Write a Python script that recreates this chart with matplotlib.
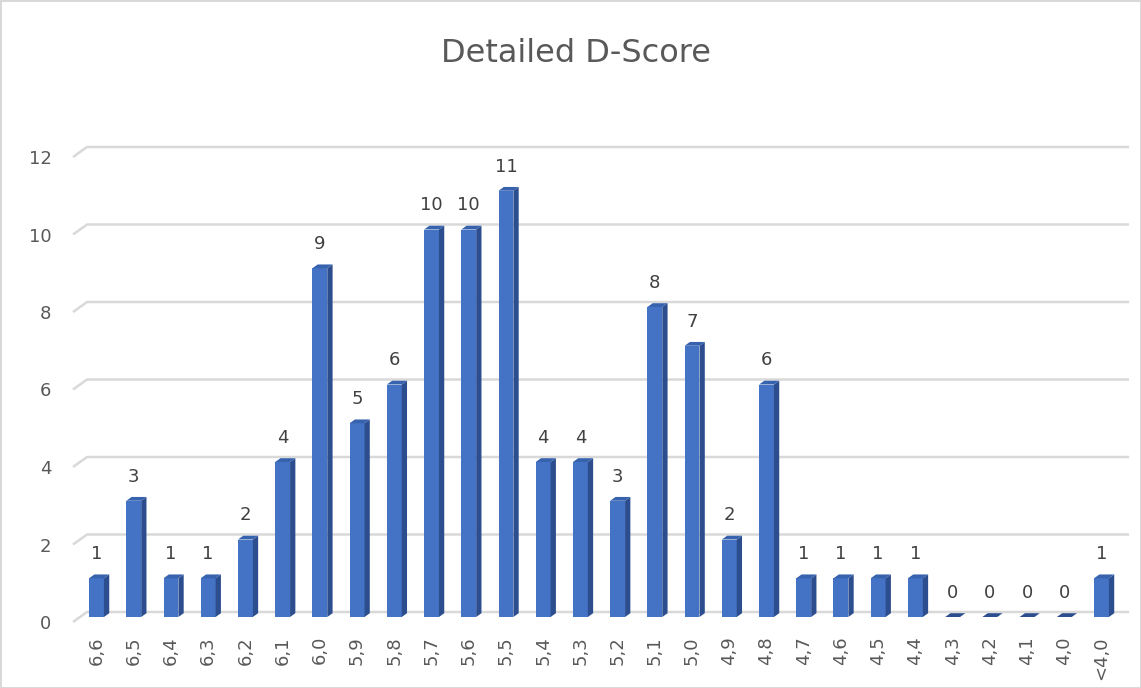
import matplotlib
matplotlib.use('Agg')
from matplotlib import pyplot as plt
from matplotlib.patches import Polygon
from matplotlib.transforms import ScaledTranslation

# categories (D-score buckets) and counts
categories = ['6,6', '6,5', '6,4', '6,3', '6,2', '6,1', '6,0', '5,9', '5,8', '5,7',
              '5,6', '5,5', '5,4', '5,3', '5,2', '5,1', '5,0', '4,9', '4,8', '4,7',
              '4,6', '4,5', '4,4', '4,3', '4,2', '4,1', '4,0', '<4,0']
counts = [1, 3, 1, 1, 2, 4, 9, 5, 6, 10, 10, 11, 4, 4, 3, 8, 7, 2, 6, 1,
          1, 1, 1, 0, 0, 0, 0, 1]
y_ticks = [0, 2, 4, 6, 8, 10, 12]

FRONT = '#4472C4'
SIDE = '#2C4E8E'
TOP = '#3762AE'
GRID = '#D9D9D9'
TXT = '#595959'

fig = plt.figure(figsize=(11.41, 6.88), dpi=100, edgecolor=GRID, linewidth=2)
# axes placed so one category = ~37 px, one unit = ~38.75 px
ax = fig.add_axes([77.9 / 1141, 71 / 688, 1042.2 / 1141, 503.75 / 688])
ax.set_xlim(-0.5, len(categories) - 0.5)
ax.set_ylim(0, 13)
for s in ax.spines.values():
    s.set_visible(False)

# fake 3d: depth of the walls and of the bars, in data units
wall_dx = 14 / 37.22
bar_w = 0.40
ddx, ddy = 5.3 / 37.22, 3.8 / 38.75

# gridlines on the back wall with the slanted floor part at the left
gx0 = -0.5 - 4.9 / 37.22
for v in y_ticks:
    back = v + 5 / 38.75
    ax.plot([gx0, gx0 + wall_dx, 27.74], [v - 5 / 38.75, back, back],
            color=GRID, lw=1.8, clip_on=False, zorder=1, solid_capstyle='butt')

xs = list(range(len(categories)))
ax.bar(xs, counts, width=bar_w, color=FRONT, zorder=3)
for x, v in zip(xs, counts):
    r = x + bar_w / 2
    l = x - bar_w / 2
    if v > 0:
        ax.add_patch(Polygon([(r, 0), (r + ddx, ddy), (r + ddx, v + ddy), (r, v)],
                             closed=True, fc=SIDE, ec='none', zorder=3))
    ax.add_patch(Polygon([(l, v), (r, v), (r + ddx, v + ddy), (l + ddx, v + ddy)],
                         closed=True, fc=TOP if v > 0 else SIDE, ec='none', zorder=4))
    ax.annotate(str(v), (x, v), xytext=(0, 17.3), textcoords='offset points',
                ha='center', va='center', fontsize=13, color='#404040',
                family='DejaVu Sans')

ax.set_xticks(xs)
ax.set_xticklabels(categories, rotation=90, fontsize=13, color=TXT)
ax.set_yticks(y_ticks)
ax.set_yticklabels([str(v) for v in y_ticks], fontsize=13, color=TXT)
ax.tick_params(axis='x', length=0, pad=13.7)
ax.tick_params(axis='y', length=0, pad=19)
shift = ScaledTranslation(0, -5 / 100, fig.dpi_scale_trans)
for lab in ax.get_yticklabels():
    lab.set_transform(lab.get_transform() + shift)

fig.text(0.505, 1 - 53 / 688, 'Detailed D-Score', ha='center', va='center',
         fontsize=23, color=TXT, family='DejaVu Sans')

fig.savefig('out.png', dpi=100, facecolor='white')
